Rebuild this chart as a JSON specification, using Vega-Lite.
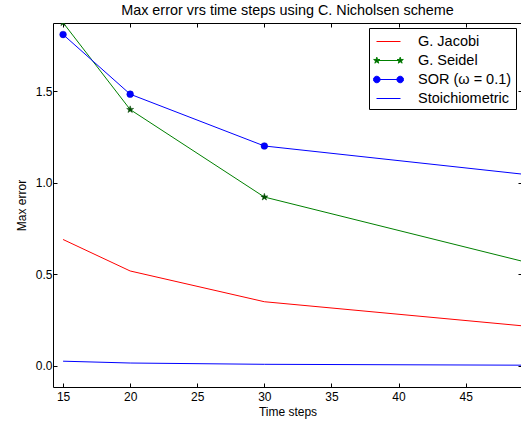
{
  "$schema": "https://vega.github.io/schema/vega-lite/v6.json",
  "autosize": "none",
  "padding": {"left": 53, "top": 23, "right": 0, "bottom": 36},
  "width": 469,
  "height": 364,
  "background": "white",
  "config": {
    "font": "Liberation Sans",
    "view": {"stroke": "black", "strokeWidth": 1},
    "axis": {"grid": false, "domain": false, "tickColor": "black", "tickSize": -4, "labelColor": "black", "labelFontSize": 12, "labelFont": "Liberation Sans", "titleFont": "Liberation Sans", "titleFontSize": 12, "titleFontWeight": "normal", "titleColor": "black"}
  },
  "title": {"text": "Max error vrs time steps using C. Nicholsen scheme", "fontSize": 14.4, "fontWeight": "normal", "font": "Liberation Sans", "color": "black", "offset": 4},
  "data": {"values": [
    {"series": "G. Jacobi", "t": 15, "err": 0.69},
    {"series": "G. Jacobi", "t": 20, "err": 0.518},
    {"series": "G. Jacobi", "t": 30, "err": 0.35},
    {"series": "G. Jacobi", "t": 50, "err": 0.213},
    {"series": "G. Seidel", "t": 15, "err": 1.875},
    {"series": "G. Seidel", "t": 20, "err": 1.4},
    {"series": "G. Seidel", "t": 30, "err": 0.922},
    {"series": "G. Seidel", "t": 50, "err": 0.557},
    {"series": "SOR (ω = 0.1)", "t": 15, "err": 1.81},
    {"series": "SOR (ω = 0.1)", "t": 20, "err": 1.484},
    {"series": "SOR (ω = 0.1)", "t": 30, "err": 1.201},
    {"series": "SOR (ω = 0.1)", "t": 50, "err": 1.041},
    {"series": "Stoichiometric", "t": 15, "err": 0.025},
    {"series": "Stoichiometric", "t": 20, "err": 0.015},
    {"series": "Stoichiometric", "t": 30, "err": 0.008},
    {"series": "Stoichiometric", "t": 50, "err": 0.003}
  ]},
  "layer": [
    {
      "mark": {"type": "line", "clip": true, "strokeWidth": 1},
      "encoding": {
        "x": {"field": "t", "type": "quantitative", "scale": {"domain": [14.25, 49.2], "nice": false, "zero": false},
              "axis": {"orient": "bottom", "values": [15, 20, 25, 30, 35, 40, 45], "title": "Time steps", "labelPadding": 8, "titlePadding": 4}},
        "y": {"field": "err", "type": "quantitative", "scale": {"domain": [-0.116, 1.873], "nice": false, "zero": false},
              "axis": {"orient": "left", "values": [0, 0.5, 1, 1.5], "format": ".1f", "title": "Max error", "labelPadding": 5, "titlePadding": 7}},
        "stroke": {"field": "series", "type": "nominal",
          "scale": {"domain": ["G. Jacobi", "G. Seidel", "SOR (ω = 0.1)", "Stoichiometric"], "range": ["#ff0000", "#008000", "#0000ff", "#0000ff"]},
          "legend": {"orient": "none", "legendX": 316, "legendY": 5, "title": null, "padding": 4, "strokeColor": "black", "fillColor": "white", "cornerRadius": 0,
            "symbolSize": 900, "symbolOffset": 3, "symbolStrokeWidth": 1, "rowPadding": 3, "labelOffset": 17, "labelFontSize": 14.5, "labelFont": "Liberation Sans", "labelColor": "black", "labelLimit": 300,
            "encode": {
              "entries": {"update": {"height": {"value": 19}}},
              "symbols": {"update": {
              "y": {"value": 9.5},
              "size": {"signal": "datum.value === 'G. Seidel' || datum.value === 'SOR (ω = 0.1)' ? 900 : 576"},
              "shape": {"signal": "datum.value === 'G. Seidel' ? 'M-0.78,0L0.78,0M-0.78,-0.22L-0.7306,-0.068L-0.5709,-0.068L-0.7001,0.026L-0.6507,0.178L-0.78,0.084L-0.9093,0.178L-0.8599,0.026L-0.9891,-0.068L-0.8294,-0.068ZM0.78,-0.22L0.8294,-0.068L0.9891,-0.068L0.8599,0.026L0.9093,0.178L0.78,0.084L0.6507,0.178L0.7001,0.026L0.5709,-0.068L0.7306,-0.068Z' : datum.value === 'SOR (ω = 0.1)' ? 'M-0.78,0L0.78,0M-0.56,0L-0.5853,0.11L-0.67,0.1905L-0.78,0.22L-0.89,0.1905L-0.9747,0.11L-1,0L-0.9747,-0.11L-0.89,-0.1905L-0.78,-0.22L-0.67,-0.1905L-0.5853,-0.11ZM1,0L0.9747,0.11L0.89,0.1905L0.78,0.22L0.67,0.1905L0.5853,0.11L0.56,0L0.5853,-0.11L0.67,-0.1905L0.78,-0.22L0.89,-0.1905L0.9747,-0.11Z' : 'stroke'"},
              "fill": {"signal": "datum.value === 'G. Seidel' ? '#005000' : datum.value === 'SOR (ω = 0.1)' ? '#0000ff' : 'transparent'"},
              "stroke": {"signal": "datum.value === 'G. Jacobi' ? '#ff0000' : datum.value === 'G. Seidel' ? '#008000' : '#0000ff'"},
              "strokeOpacity": {"value": 1}
            }},
              "labels": {"update": {"y": {"value": 9.5}}}
            }
          }}
      }
    },
    {
      "transform": [{"filter": {"field": "series", "oneOf": ["G. Seidel", "SOR (ω = 0.1)"]}}],
      "mark": {"type": "point", "filled": true, "clip": true, "opacity": 1, "strokeWidth": 0.5},
      "encoding": {
        "x": {"field": "t", "type": "quantitative", "axis": {"orient": "top", "values": [15, 20, 25, 30, 35, 40, 45], "labels": false, "title": null}},
        "y": {"field": "err", "type": "quantitative", "axis": {"orient": "right", "values": [0, 0.5, 1, 1.5], "labels": false, "title": null}},
        "shape": {"field": "series", "type": "nominal", "scale": {"domain": ["G. Seidel", "SOR (ω = 0.1)"], "range": ["M0,-1L0.2245,-0.309L0.951,-0.309L0.3633,0.118L0.5878,0.809L0,0.382L-0.5878,0.809L-0.3633,0.118L-0.951,-0.309L-0.2245,-0.309Z", "circle"]}, "legend": null},
        "fill": {"field": "series", "type": "nominal", "scale": {"domain": ["G. Seidel", "SOR (ω = 0.1)"], "range": ["#005000", "#0000ff"]}, "legend": null},
        "stroke": {"field": "series", "type": "nominal", "scale": {"domain": ["G. Seidel", "SOR (ω = 0.1)"], "range": ["#004000", "#0000cc"]}, "legend": null},
        "size": {"field": "series", "type": "nominal", "scale": {"domain": ["G. Seidel", "SOR (ω = 0.1)"], "range": [55, 45]}, "legend": null}
      }
    }
  ],
  "resolve": {"axis": {"x": "independent", "y": "independent"}, "scale": {"stroke": "independent"}}
}
